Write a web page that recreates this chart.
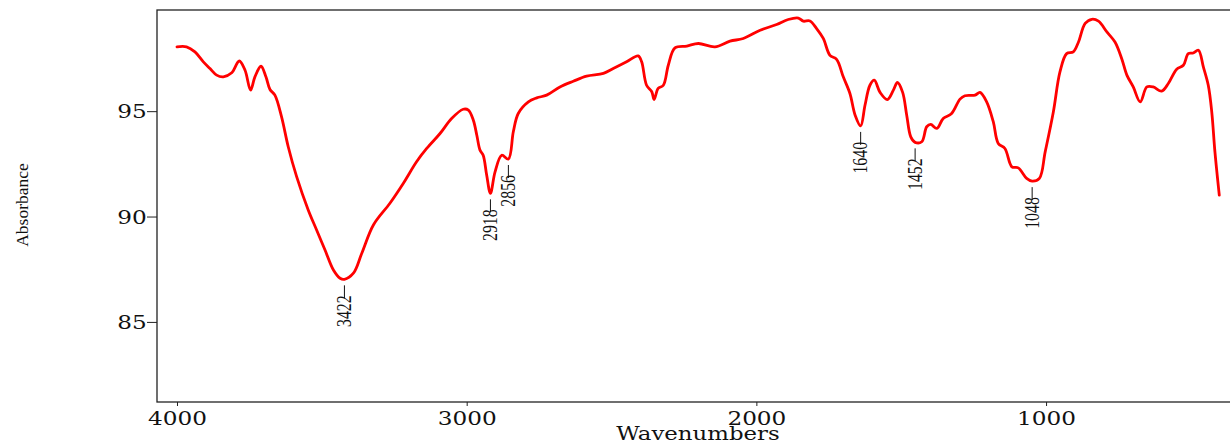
<!DOCTYPE html>
<html>
<head>
<meta charset="utf-8">
<script src="https://cdn.jsdelivr.net/npm/d3@7"></script>
<style>
  body {
    margin: 0;
    background: #fff;
  }
  .tickLabel {
    font-family: "DejaVu Serif", serif;
    font-size: 19px;
    fill: #111;
  }
  .peakLabel {
    font-family: "Liberation Serif", serif;
    font-size: 22px;
    fill: #111;
  }
</style>
</head>
<body>
<div id="chart"></div>
<script>
// Spectrum (wavenumber, absorbance)
const wavenumbers = [
  4000, 3967, 3938, 3909, 3886, 3863, 3840, 3811, 3785, 3765, 3746, 3731,
  3710, 3693, 3679, 3662, 3639, 3616, 3587, 3547, 3518, 3489, 3460, 3437,
  3422, 3391, 3362, 3322, 3265, 3219, 3173, 3138, 3092, 3052, 3012, 2994,
  2977, 2965, 2954, 2943, 2931, 2918, 2902, 2879, 2856, 2839, 2822, 2787,
  2758, 2724, 2678, 2632, 2586, 2528, 2494, 2448, 2408, 2396, 2379, 2361,
  2353, 2339, 2321, 2304, 2281, 2240, 2200, 2143, 2091, 2045, 1987, 1930,
  1890, 1855, 1838, 1815, 1792, 1769, 1746, 1723, 1700, 1677, 1659, 1640,
  1625, 1608, 1593, 1573, 1548, 1527, 1513, 1495, 1481, 1467, 1452, 1429,
  1412, 1398, 1377, 1355, 1326, 1297, 1280, 1245, 1228, 1205, 1182, 1165,
  1142, 1118, 1096, 1067, 1048, 1023, 1003, 975, 952, 929, 906, 888,
  865, 842, 819, 790, 762, 739, 721, 699, 675, 652, 630, 601,
  578, 549, 526, 509, 492, 474, 457, 440, 428, 417, 402
];
const absorbance = [
  98.05, 98.05, 97.81, 97.34, 97.02, 96.71, 96.63, 96.82, 97.38, 96.94, 96.0, 96.63,
  97.13, 96.63, 96.03, 95.76, 94.73, 93.31, 91.89, 90.31, 89.36, 88.41, 87.46, 87.07,
  87.02, 87.31, 88.26, 89.6, 90.63, 91.57, 92.6, 93.23, 93.94, 94.65, 95.09, 95.05,
  94.57, 93.86, 93.15, 92.91, 91.97, 91.1, 92.12, 92.91, 92.73, 94.02, 94.89, 95.44,
  95.63, 95.76, 96.15, 96.42, 96.66, 96.79, 97.02, 97.34, 97.62, 97.34, 96.23, 95.92,
  95.55, 96.08, 96.23, 97.18, 98.0, 98.09, 98.21, 98.05, 98.32, 98.45, 98.84, 99.11,
  99.35, 99.42, 99.27, 99.28, 98.92, 98.45, 97.65, 97.46, 96.63, 95.84, 94.81, 94.3,
  95.28, 96.23, 96.47, 95.89, 95.55, 96.0, 96.36, 95.89, 94.81, 93.78, 93.52, 93.55,
  94.26, 94.37, 94.18, 94.65, 94.89, 95.57, 95.73, 95.76, 95.89, 95.44, 94.49, 93.47,
  93.23, 92.36, 92.31, 91.81, 91.68, 91.81, 93.07, 94.95, 96.86, 97.73, 97.81, 98.28,
  99.16, 99.36, 99.27, 98.76, 98.28, 97.5, 96.71, 96.15, 95.44, 96.15, 96.15, 95.95,
  96.31, 96.99, 97.18, 97.73, 97.76, 97.89, 97.1, 96.23, 94.97, 93.07, 91.02
];

const peakWavenumbers = [3422, 2918, 2856, 1640, 1452, 1048];
const peakLabels = ["3422", "2918", "2856", "1640", "1452", "1048"];

const xTicks = [4000, 3000, 2000, 1000];
const yTicks = [85, 90, 95];

const xLabel = "Wavenumbers";
const yLabel = "Absorbance";

const W = 1230;
const H = 442;
const plot = { left: 157, top: 10, right: 1230, bottom: 402 };

const data = wavenumbers.map((w, i) => ({ wn: w, value: absorbance[i] }));

const xScale = d3
  .scaleLinear()
  .domain([4069, 365])
  .range([plot.left, plot.right]);

const yScale = d3
  .scaleLinear()
  .domain([81.2, 99.8])
  .range([plot.bottom, plot.top]);

const svg = d3
  .select("#chart")
  .append("svg")
  .attr("width", W)
  .attr("height", H);

// frame (open on the right, cut by the picture edge)
svg
  .append("rect")
  .attr("x", plot.left)
  .attr("y", plot.top)
  .attr("width", 1200)
  .attr("height", plot.bottom - plot.top)
  .attr("fill", "none")
  .attr("stroke", "#222")
  .attr("stroke-width", 1.3);

const xAxis = d3
  .axisBottom(xScale)
  .tickValues(xTicks)
  .tickSize(4)
  .tickSizeOuter(0)
  .tickFormat(d3.format("d"));

const gX = svg
  .append("g")
  .attr("transform", "translate(0," + plot.bottom + ")")
  .call(xAxis);
gX.select(".domain").remove();
gX.selectAll("line").attr("stroke", "#222");
gX
  .selectAll("text")
  .attr("class", "tickLabel")
  .attr("y", 23)
  .attr("dy", 0)
  .attr("transform", "scale(1.22,1)");

const yAxis = d3
  .axisLeft(yScale)
  .tickValues(yTicks)
  .tickSize(10)
  .tickSizeOuter(0);

const gY = svg
  .append("g")
  .attr("transform", "translate(" + plot.left + ",0)")
  .call(yAxis);
gY.select(".domain").remove();
gY.selectAll("line").attr("stroke", "#222");
gY
  .selectAll("text")
  .attr("class", "tickLabel")
  .attr("x", -8.5)
  .attr("dy", "0.34em")
  .attr("transform", "scale(1.22,1)");

svg
  .append("text")
  .attr("transform", "translate(698,440) scale(1.27,1)")
  .attr("text-anchor", "middle")
  .style("font-family", "DejaVu Serif, serif")
  .style("font-size", "18px")
  .attr("fill", "#111")
  .text(xLabel);

svg
  .append("text")
  .attr("transform", "translate(28,205) rotate(-90)")
  .attr("text-anchor", "middle")
  .style("font-family", "Liberation Serif, serif")
  .style("font-size", "17.5px")
  .attr("fill", "#111")
  .text(yLabel);

const line = d3
  .line()
  .x(d => xScale(d.wn))
  .y(d => yScale(d.value))
  .curve(d3.curveCatmullRom.alpha(0.5));

svg
  .append("path")
  .datum(data)
  .attr("fill", "none")
  .attr("stroke", "#ff0000")
  .attr("stroke-width", 2.8)
  .attr("stroke-linejoin", "round")
  .attr("stroke-linecap", "round")
  .attr("d", line);

// peak markers
const peaks = peakWavenumbers.map((w, i) => {
  const p = data.find(d => d.wn === w);
  return { wn: w, value: p.value, label: peakLabels[i] };
});

const gPeaks = svg
  .selectAll(".peak")
  .data(peaks)
  .enter()
  .append("g")
  .attr("class", "peak");

gPeaks
  .append("line")
  .attr("x1", d => xScale(d.wn))
  .attr("x2", d => xScale(d.wn))
  .attr("y1", d => yScale(d.value) + 6)
  .attr("y2", d => yScale(d.value) + 19)
  .attr("stroke", "#111")
  .attr("stroke-width", 1);

gPeaks
  .append("text")
  .attr("class", "peakLabel")
  .attr(
    "transform",
    d =>
      "translate(" +
      xScale(d.wn) +
      "," +
      (yScale(d.value) + 16) +
      ") rotate(-90) scale(0.72,1)"
  )
  .attr("text-anchor", "end")
  .attr("dy", "0.3em")
  .text(d => d.label);
</script>
</body>
</html>
